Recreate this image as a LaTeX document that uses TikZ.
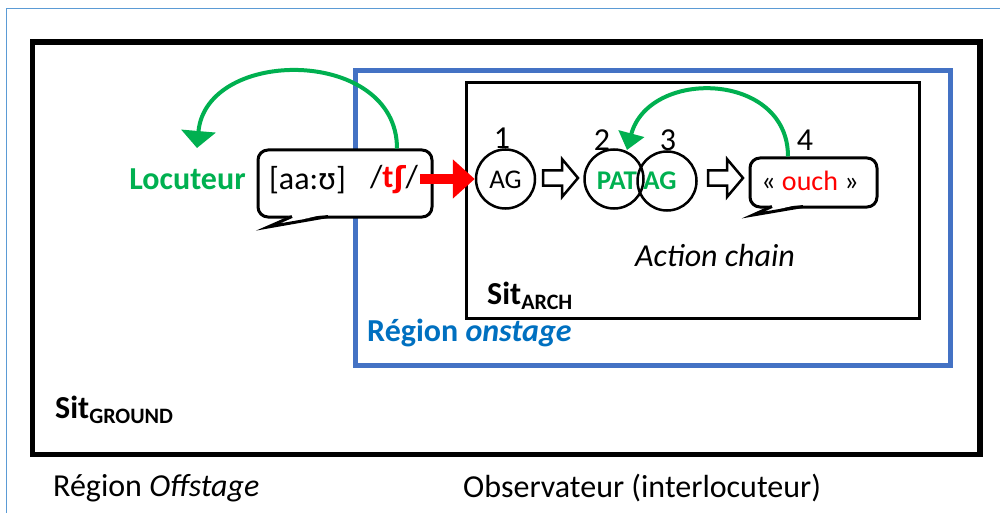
\documentclass[tikz,border=0pt]{standalone}
\usepackage{fontspec}
\setmainfont{Carlito}
\newfontfamily\ipafont{DejaVu Sans}
\usetikzlibrary{arrows.meta,calc}
\definecolor{mygreen}{HTML}{00B050}
\definecolor{myred}{HTML}{FF0000}
\definecolor{rectblue}{HTML}{4472C4}
\definecolor{textblue}{HTML}{0070C0}
\definecolor{frameblue}{HTML}{5B9BD5}
\tikzset{
  big/.style={font=\fontsize{32}{36}\selectfont, inner sep=0pt},
  circ/.style={circle, draw=black, line width=2.5pt, minimum size=59pt, inner sep=0pt, fill=none},
  bubble/.style={draw=black, line width=3pt, rounded corners=10pt, fill=white, inner sep=0pt},
  greenarr/.style={draw=mygreen, line width=4pt},
  redarr/.style={draw=myred, line width=9pt, -{Triangle[width=38pt,length=22pt]}},
  blockarr/.pic={\draw[line width=2.5pt, fill=white, line join=miter] (0,-7.5) -- (19,-7.5) -- (19,-19) -- (35,0) -- (19,19) -- (19,7.5) -- (0,7.5) -- cycle;}
}
\begin{document}
\begin{tikzpicture}[x=1pt,y=-1pt]
\useasboundingbox (0,0) rectangle (1000,513);
% page frame
\draw[frameblue, line width=1.5pt] (6.5,513) -- (6.5,8.5) -- (1000,8.5);
% Sit ground
\draw[black, line width=5.5pt] (32.5,42) rectangle (980,454.5);
% onstage region
\draw[rectblue, line width=5pt] (355.5,71) rectangle (950.5,365);
% Sit arch
\draw[black, line width=3pt] (466.5,83) rectangle (919.5,318);

% bubble 1
\node[bubble, minimum width=174pt, minimum height=67pt] (b1) at (345,183.5) {};
\fill[white] (294,214) -- (268,227) -- (326,214) -- cycle;
\draw[line width=3pt, line join=miter] (292,216.5) -- (268,227) -- (328,216.5);
\node[big] (ipa) at (307.5,180) {[aa:{\ipafont\fontsize{29}{32}\selectfont ʊ}]};
\node[big] (tsh) at (394,180) {/\textcolor{myred}{\bfseries t{\ipafont\fontsize{29}{32}\selectfont ʃ}}/};
\node[big, text=mygreen, font=\fontsize{32}{36}\selectfont\bfseries] (loc) at (187.5,179) {Locuteur};
\coordinate (g1tip) at (197,148);
\draw[greenarr, -{Triangle[width=34pt,length=17pt]}] (b1.north -| 397,0) to[out=90,in=85,looseness=1.3] (g1tip);

% chain
\node[circ] (c1) at (505.5,179) {};
\node[font=\fontsize{27}{30}\selectfont, inner sep=0pt] (ag1) at (505.5,180) {AG};
\node[big] (n1) at (502,138) {1};
\pic at (543,178) {blockarr};
\node[circ] (c2) at (614,179) {};
\node[circ] (c3) at (667,181) {};
\node[font=\fontsize{27}{30}\selectfont\bfseries, text=mygreen, inner sep=0pt] (pat) at (617,181) {PAT};
\node[font=\fontsize{27}{30}\selectfont\bfseries, text=mygreen, inner sep=0pt] (ag2) at (660,181) {AG};
\node[big] (n2) at (602,140) {2};
\node[big] (n3) at (668,140) {3};
\pic at (708,178) {blockarr};

% bubble 2
\node[bubble, minimum width=127pt, minimum height=49pt] (b2) at (813.5,182.5) {};
\fill[white] (774,204) -- (753,215) -- (801,204) -- cycle;
\draw[line width=3pt, line join=miter] (772,206.5) -- (753,215) -- (803,206.5);
\node[font=\fontsize{28}{32}\selectfont, inner sep=0pt] (ouch) at (810,181) {« \textcolor{myred}{ouch} »};
\node[big] (n4) at (805,140) {4};
\coordinate (g2tip) at (627,150);
\draw[greenarr, -{Triangle[width=26pt,length=17pt]}] (b2.north -| 788,0) to[out=90,in=75,looseness=1.35] (g2tip);

% red arrow
\draw[redarr] (420,179) -- (c1.west);

% labels
\node[big, font=\fontsize{32}{36}\selectfont\itshape] (ac) at (715,256) {Action chain};
\node[big, anchor=base west, font=\fontsize{32}{36}\selectfont\bfseries] (sarch) at (487,304) {Sit\raisebox{-5pt}{\fontsize{22}{24}\selectfont ARCH}};
\node[big, anchor=west, text=textblue, font=\fontsize{32}{36}\selectfont\bfseries] (ron) at (367,333) {Région \textit{onstage}};
\node[big, anchor=base west, font=\fontsize{32}{36}\selectfont\bfseries] (sground) at (55,418) {Sit\raisebox{-5pt}{\fontsize{22}{24}\selectfont GROUND}};
\node[big, anchor=west] (roff) at (53,488) {Région \textit{Offstage}};
\node[big, anchor=west] (obs) at (463,488) {Observateur (interlocuteur)};
\end{tikzpicture}
\end{document}
